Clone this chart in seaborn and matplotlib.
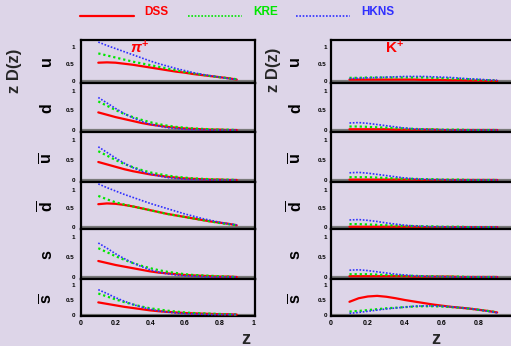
import numpy as np
import pandas as pd
import matplotlib
matplotlib.use("Agg")
import matplotlib.pyplot as plt
from matplotlib.lines import Line2D
import seaborn as sns

# ---------------------------------------------------------------- data
z = [0.10, 0.15, 0.20, 0.25, 0.30, 0.35, 0.40, 0.45, 0.50,
     0.55, 0.60, 0.65, 0.70, 0.75, 0.80, 0.85, 0.90]

sets = ["DSS", "KRE", "HKNS"]
flavours = ["u", "d", "ubar", "dbar", "s", "sbar"]
flavour_labels = [r"$\mathbf{u}$", r"$\mathbf{d}$", r"$\overline{\mathbf{u}}$",
                  r"$\overline{\mathbf{d}}$", r"$\mathbf{s}$", r"$\overline{\mathbf{s}}$"]
x_ticks = [0, 0.2, 0.4, 0.6, 0.8, 1]
x_tick_labels = ["0", "0.2", "0.4", "0.6", "0.8", "1"]
y_ticks = [0, 0.5, 1]
y_tick_labels = ["0", "0.5", "1"]

# pi+ fragmentation functions z D(z)
pip_u_dss = [0.54, 0.55, 0.54, 0.51, 0.48, 0.44, 0.40, 0.36, 0.32, 0.28, 0.25, 0.21, 0.18, 0.15, 0.12, 0.09, 0.05]
pip_u_kre = [0.81, 0.75, 0.69, 0.63, 0.57, 0.52, 0.47, 0.42, 0.37, 0.32, 0.27, 0.23, 0.19, 0.15, 0.12, 0.09, 0.06]
pip_u_hkns = [1.14, 1.04, 0.95, 0.86, 0.77, 0.68, 0.59, 0.51, 0.44, 0.37, 0.31, 0.25, 0.20, 0.16, 0.12, 0.08, 0.05]

pip_d_dss = [0.45, 0.39, 0.33, 0.28, 0.23, 0.18, 0.14, 0.11, 0.08, 0.06, 0.04, 0.03, 0.02, 0.01, 0.01, 0.00, 0.00]
pip_d_kre = [0.73, 0.62, 0.51, 0.41, 0.33, 0.26, 0.20, 0.15, 0.11, 0.08, 0.06, 0.04, 0.03, 0.02, 0.01, 0.01, 0.00]
pip_d_hkns = [0.83, 0.69, 0.55, 0.42, 0.31, 0.22, 0.15, 0.10, 0.06, 0.04, 0.02, 0.01, 0.01, 0.00, 0.00, 0.00, 0.00]

pip_ub_dss = [0.45, 0.39, 0.33, 0.27, 0.22, 0.18, 0.14, 0.11, 0.08, 0.06, 0.04, 0.03, 0.02, 0.01, 0.01, 0.00, 0.00]
pip_ub_kre = [0.72, 0.61, 0.50, 0.40, 0.32, 0.25, 0.19, 0.15, 0.11, 0.08, 0.06, 0.04, 0.03, 0.02, 0.01, 0.01, 0.00]
pip_ub_hkns = [0.83, 0.69, 0.55, 0.42, 0.31, 0.22, 0.15, 0.10, 0.06, 0.04, 0.02, 0.01, 0.01, 0.00, 0.00, 0.00, 0.00]

pip_db_dss = [0.61, 0.63, 0.62, 0.59, 0.55, 0.50, 0.45, 0.40, 0.35, 0.31, 0.27, 0.23, 0.19, 0.15, 0.12, 0.09, 0.05]
pip_db_kre = [0.83, 0.74, 0.66, 0.60, 0.55, 0.50, 0.45, 0.40, 0.35, 0.31, 0.27, 0.23, 0.19, 0.15, 0.11, 0.08, 0.05]
pip_db_hkns = [1.15, 1.05, 0.96, 0.87, 0.79, 0.71, 0.63, 0.56, 0.49, 0.42, 0.35, 0.29, 0.23, 0.18, 0.13, 0.09, 0.06]

pip_s_dss = [0.40, 0.35, 0.30, 0.26, 0.22, 0.18, 0.14, 0.11, 0.09, 0.07, 0.05, 0.04, 0.03, 0.02, 0.01, 0.01, 0.00]
pip_s_kre = [0.72, 0.62, 0.52, 0.43, 0.35, 0.28, 0.22, 0.17, 0.13, 0.10, 0.07, 0.05, 0.04, 0.03, 0.02, 0.01, 0.00]
pip_s_hkns = [0.85, 0.72, 0.58, 0.46, 0.35, 0.26, 0.18, 0.12, 0.08, 0.05, 0.03, 0.02, 0.01, 0.00, 0.00, 0.00, 0.00]

pip_sb_dss = [0.41, 0.36, 0.31, 0.26, 0.22, 0.18, 0.14, 0.11, 0.09, 0.07, 0.05, 0.04, 0.03, 0.02, 0.01, 0.01, 0.00]
pip_sb_kre = [0.71, 0.61, 0.51, 0.42, 0.34, 0.27, 0.21, 0.17, 0.13, 0.10, 0.07, 0.05, 0.04, 0.03, 0.02, 0.01, 0.00]
pip_sb_hkns = [0.84, 0.71, 0.57, 0.45, 0.34, 0.25, 0.18, 0.12, 0.08, 0.05, 0.03, 0.02, 0.01, 0.00, 0.00, 0.00, 0.00]

# K+ fragmentation functions z D(z)
kp_u_dss = [0.05, 0.05, 0.05, 0.05, 0.05, 0.05, 0.05, 0.05, 0.04, 0.04, 0.04, 0.03, 0.03, 0.02, 0.02, 0.01, 0.01]
kp_u_kre = [0.10, 0.10, 0.11, 0.11, 0.11, 0.11, 0.11, 0.11, 0.11, 0.10, 0.09, 0.08, 0.07, 0.06, 0.04, 0.03, 0.02]
kp_u_hkns = [0.08, 0.09, 0.10, 0.11, 0.12, 0.13, 0.14, 0.14, 0.14, 0.13, 0.12, 0.11, 0.09, 0.07, 0.06, 0.04, 0.03]

kp_d_dss = [0.02, 0.02, 0.02, 0.02, 0.02, 0.01, 0.01, 0.01, 0.01, 0.01, 0.00, 0.00, 0.00, 0.00, 0.00, 0.00, 0.00]
kp_d_kre = [0.09, 0.09, 0.08, 0.07, 0.06, 0.05, 0.04, 0.03, 0.02, 0.02, 0.01, 0.01, 0.01, 0.00, 0.00, 0.00, 0.00]
kp_d_hkns = [0.18, 0.19, 0.17, 0.14, 0.11, 0.08, 0.05, 0.03, 0.02, 0.01, 0.01, 0.00, 0.00, 0.00, 0.00, 0.00, 0.00]

kp_ub_dss = [0.01, 0.01, 0.01, 0.01, 0.01, 0.01, 0.01, 0.01, 0.00, 0.00, 0.00, 0.00, 0.00, 0.00, 0.00, 0.00, 0.00]
kp_ub_kre = [0.07, 0.07, 0.07, 0.06, 0.05, 0.04, 0.03, 0.03, 0.02, 0.02, 0.01, 0.01, 0.01, 0.00, 0.00, 0.00, 0.00]
kp_ub_hkns = [0.18, 0.19, 0.17, 0.14, 0.11, 0.08, 0.05, 0.03, 0.02, 0.01, 0.01, 0.00, 0.00, 0.00, 0.00, 0.00, 0.00]

kp_db_dss = [0.01, 0.01, 0.01, 0.01, 0.01, 0.01, 0.01, 0.01, 0.00, 0.00, 0.00, 0.00, 0.00, 0.00, 0.00, 0.00, 0.00]
kp_db_kre = [0.08, 0.08, 0.07, 0.06, 0.05, 0.04, 0.03, 0.03, 0.02, 0.02, 0.01, 0.01, 0.01, 0.00, 0.00, 0.00, 0.00]
kp_db_hkns = [0.19, 0.20, 0.18, 0.15, 0.11, 0.08, 0.05, 0.03, 0.02, 0.01, 0.01, 0.00, 0.00, 0.00, 0.00, 0.00, 0.00]

kp_s_dss = [0.02, 0.02, 0.02, 0.02, 0.02, 0.02, 0.02, 0.01, 0.01, 0.01, 0.01, 0.01, 0.00, 0.00, 0.00, 0.00, 0.00]
kp_s_kre = [0.07, 0.07, 0.07, 0.06, 0.05, 0.04, 0.03, 0.03, 0.02, 0.02, 0.01, 0.01, 0.01, 0.00, 0.00, 0.00, 0.00]
kp_s_hkns = [0.17, 0.18, 0.16, 0.13, 0.10, 0.07, 0.05, 0.03, 0.02, 0.01, 0.01, 0.00, 0.00, 0.00, 0.00, 0.00, 0.00]

kp_sb_dss = [0.43, 0.55, 0.61, 0.63, 0.60, 0.55, 0.49, 0.44, 0.39, 0.34, 0.30, 0.26, 0.23, 0.20, 0.16, 0.12, 0.07]
kp_sb_kre = [0.10, 0.12, 0.15, 0.18, 0.21, 0.23, 0.25, 0.27, 0.28, 0.28, 0.27, 0.25, 0.23, 0.20, 0.16, 0.12, 0.08]
kp_sb_hkns = [0.04, 0.07, 0.11, 0.15, 0.19, 0.22, 0.25, 0.28, 0.29, 0.29, 0.28, 0.26, 0.23, 0.20, 0.16, 0.11, 0.06]

pip = {
    "u": (pip_u_dss, pip_u_kre, pip_u_hkns),
    "d": (pip_d_dss, pip_d_kre, pip_d_hkns),
    "ubar": (pip_ub_dss, pip_ub_kre, pip_ub_hkns),
    "dbar": (pip_db_dss, pip_db_kre, pip_db_hkns),
    "s": (pip_s_dss, pip_s_kre, pip_s_hkns),
    "sbar": (pip_sb_dss, pip_sb_kre, pip_sb_hkns),
}
kp = {
    "u": (kp_u_dss, kp_u_kre, kp_u_hkns),
    "d": (kp_d_dss, kp_d_kre, kp_d_hkns),
    "ubar": (kp_ub_dss, kp_ub_kre, kp_ub_hkns),
    "dbar": (kp_db_dss, kp_db_kre, kp_db_hkns),
    "s": (kp_s_dss, kp_s_kre, kp_s_hkns),
    "sbar": (kp_sb_dss, kp_sb_kre, kp_sb_hkns),
}

# ---------------------------------------------------------------- style
BG = "#ddd5e8"
palette = {"DSS": "#ff0000", "KRE": "#00e600", "HKNS": "#2f2fff"}
dashes = {"DSS": "", "KRE": (1.0, 1.3), "HKNS": (1.0, 1.0)}
widths = {"DSS": 1.6, "KRE": 1.6, "HKNS": 1.2}

sns.set_theme(style="white")
plt.rcParams["font.family"] = ["Liberation Sans", "DejaVu Sans"]
plt.rcParams["font.weight"] = "bold"
plt.rcParams["mathtext.fontset"] = "custom"
plt.rcParams["mathtext.rm"] = "Liberation Sans"
plt.rcParams["mathtext.bf"] = "Liberation Sans:bold"
plt.rcParams["mathtext.it"] = "Liberation Sans:italic:bold"

W, H = 511, 346
fig = plt.figure(figsize=(W / 100, H / 100), dpi=100)
fig.patch.set_facecolor(BG)

tops = [40, 83, 132, 182, 229, 279]
bottoms = [83, 132, 182, 229, 279, 316]
# (left px, width px, table, px per unit z)
columns = [(81, 174, pip, 173.0), (331, 185, kp, 184.6)]


def tidy(values):
    dss, kre, hkns = values
    return pd.DataFrame({
        "z": z * 3,
        "zD": list(dss) + list(kre) + list(hkns),
        "set": ["DSS"] * len(z) + ["KRE"] * len(z) + ["HKNS"] * len(z),
    })


for col, (x0, width, table, scale) in enumerate(columns):
    for row, fl in enumerate(flavours):
        t, b = tops[row], bottoms[row]
        ax = fig.add_axes([x0 / W, 1 - b / H, width / W, (b - t) / H])
        ax.set_facecolor(BG)
        ax.axhline(0, color="#7a7a7a", lw=1.6, zorder=1)
        sns.lineplot(data=tidy(table[fl]), x="z", y="zD", hue="set",
                     style="set", size="set", hue_order=sets,
                     palette=palette, dashes=dashes, sizes=widths,
                     legend=False, ax=ax, zorder=3)
        ax.set_xlim(0, width / scale)
        ax.set_ylim(-0.05, 1.2)
        ax.set_xlabel("")
        ax.set_ylabel("")
        for sp in ax.spines.values():
            sp.set_color("black")
            sp.set_linewidth(1.6)
        ax.set_yticks(y_ticks)
        ax.set_yticklabels(y_tick_labels, fontsize=4.5, fontweight="bold")
        ax.tick_params(axis="y", direction="in", length=5, width=1.1,
                       pad=4.5 if col == 0 else 3.0, colors="black")
        if col == 0:
            ax.set_xticks(x_ticks)
            shown = x_tick_labels
        else:
            # the right column ends at the figure edge, just past z = 1
            ax.set_xticks(x_ticks[:-1])
            shown = x_tick_labels[:-1]
        ax.tick_params(axis="x", direction="in", length=2, width=0.8,
                       pad=3, colors="black")
        if row == len(flavours) - 1:
            ax.set_xticklabels(shown, fontsize=5, fontweight="bold")
        else:
            ax.set_xticklabels([])
        # flavour label
        fig.text((47 if col == 0 else 296) / W, 1 - ((t + b) / 2 + 1) / H,
                 flavour_labels[row], rotation=90, fontsize=11.5,
                 ha="center", va="center", color="black")

# axis titles
fig.text(15 / W, 1 - 71 / H, "z D(z)", rotation=90, fontsize=12,
         fontweight="bold", ha="center", va="center")
fig.text(273 / W, 1 - 70 / H, "z D(z)", rotation=90, fontsize=12,
         fontweight="bold", ha="center", va="center")
fig.text(246 / W, 1 - 339 / H, "z", fontsize=13, fontweight="bold",
         ha="center", va="center")
fig.text(436 / W, 1 - 339 / H, "z", fontsize=13, fontweight="bold",
         ha="center", va="center")

# hadron labels
fig.text(140 / W, 1 - 48 / H, r"$\pi^{+}$", fontsize=11, color="#ff0000",
         ha="center", va="center")
fig.text(395 / W, 1 - 48 / H, r"$\mathbf{K}^{\mathbf{+}}$", fontsize=11,
         color="#ff0000", ha="center", va="center")

# key along the top
key = [("DSS", 80, 134, 144), ("KRE", 188, 242, 253), ("HKNS", 296, 350, 361)]
for name, xa, xb, xt in key:
    ln = Line2D([xa / W, xb / W], [1 - 16 / H, 1 - 16 / H],
                transform=fig.transFigure, color=palette[name],
                lw=1.6 if name == "DSS" else 1.2,
                dashes=(None, None) if name == "DSS" else (1.0, 1.0))
    fig.add_artist(ln)
    fig.text(xt / W, 1 - 12 / H, name, fontsize=8.5, fontweight="bold",
             color=palette[name], ha="left", va="center")

fig.savefig("out.png", dpi=100, facecolor=BG)
